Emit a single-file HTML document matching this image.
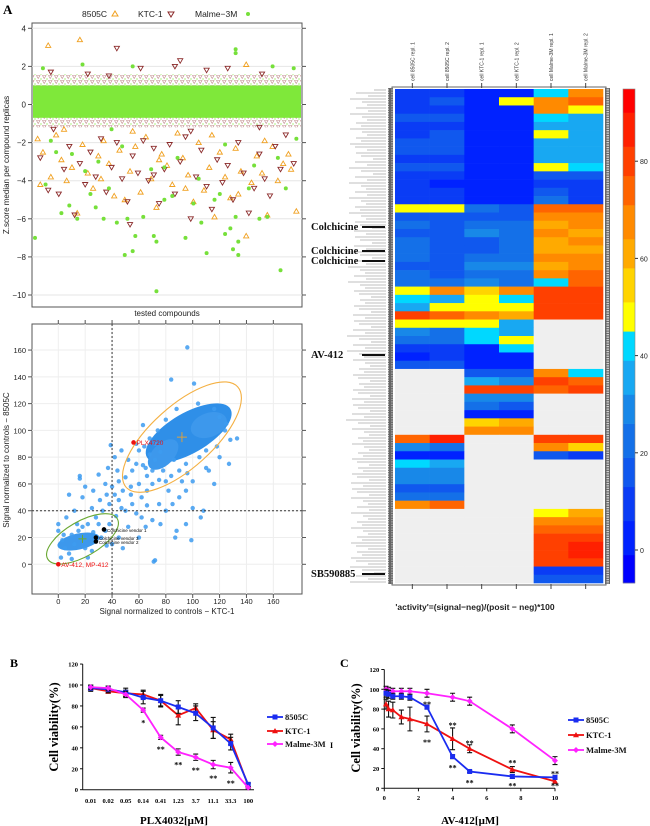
<!DOCTYPE html>
<html><head><meta charset="utf-8">
<style>
html,body{margin:0;padding:0;background:#fff;}
svg{display:block;font-family:"Liberation Sans",sans-serif;}
.serif{font-family:"Liberation Serif",serif;font-weight:bold;}
</style></head>
<body>
<svg id="fig" width="650" height="826" viewBox="0 0 650 826" xmlns="http://www.w3.org/2000/svg">
<defs>
<pattern id="brownTri" width="6" height="5" patternUnits="userSpaceOnUse"><path d="M0.5 0.5 L4 0.5 L2.2 3.5 Z" fill="none" stroke="#8b2a2a" stroke-width="0.6"/><circle cx="5" cy="4" r="0.9" fill="#7fe83a"/></pattern>
<pattern id="chk" width="5" height="2.4" patternUnits="userSpaceOnUse"><rect width="5" height="2.4" fill="#666"/><rect x="1" y="0.5" width="3" height="1.2" fill="#ddd"/></pattern>
</defs>
<text class="serif" x="3" y="14" font-size="13" font-weight="normal">A</text>
<text class="serif" x="10" y="667" font-size="12" font-weight="normal">B</text>
<text class="serif" x="340" y="667" font-size="12" font-weight="normal">C</text>
<g id="p1"></g>
<g id="p2"></g>
<g id="hm"></g>
<g id="pb"></g>
<g id="pc"></g>
</svg>
<script>
// ---------- Panel A top: z-score scatter ----------
const zTicks = [4,2,0,-2,-4,-6,-8,-10];
const z8505 = [[5,3.1],[17,3.4],[80,2.1],[1,-1.8],[3,-2.5],[6,-3.8],[8,-1.6],[10,-2.9],[12,-4.0],[14,-3.3],[16,-5.7],[18,-2.1],[20,-3.6],[22,-4.4],[24,-2.7],[26,-1.9],[28,-3.1],[30,-4.8],[32,-2.4],[34,-5.0],[36,-3.5],[38,-2.2],[40,-4.6],[42,-1.7],[44,-3.9],[46,-5.4],[48,-2.6],[50,-3.2],[52,-4.2],[54,-1.5],[56,-2.8],[58,-3.7],[60,-5.1],[62,-2.0],[64,-4.5],[66,-3.3],[68,-5.9],[70,-2.5],[72,-3.8],[74,-4.9],[76,-2.3],[78,-3.5],[80,-6.9],[82,-4.1],[84,-2.7],[86,-3.6],[88,-5.8],[90,-2.2],[92,-4.0],[94,-3.1],[96,-2.6],[99,-5.6],[2,-4.2],[11,-1.3],[25,-3.9],[37,-1.4],[47,-2.9],[57,-4.4],[67,-1.6],[77,-4.7],[87,-1.9],[97,-3.4]];
const zKTC = [[31,2.95],[55,2.3],[53,2.0],[40,1.9],[73,1.9],[6,1.7],[20,1.6],[28,1.5],[65,1.8],[86,1.6],[2,-2.8],[5,-4.5],[9,-4.7],[11,-3.4],[13,-2.2],[15,-5.8],[17,-3.1],[19,-4.2],[21,-2.5],[23,-3.8],[25,-1.8],[27,-4.6],[29,-3.3],[31,-2.0],[33,-3.9],[35,-5.1],[37,-2.7],[39,-3.6],[41,-1.9],[43,-4.0],[45,-2.3],[47,-5.2],[49,-3.4],[51,-2.1],[53,-4.7],[55,-3.0],[57,-1.7],[59,-6.0],[61,-3.8],[63,-2.4],[65,-4.3],[67,-5.5],[69,-2.9],[71,-4.1],[73,-3.2],[75,-5.0],[77,-2.0],[79,-3.6],[81,-5.7],[83,-4.4],[85,-2.6],[87,-3.9],[89,-4.8],[91,-2.2],[93,-3.4],[95,-1.6],[98,-3.1],[36,-6.3],[45,-3.7],[7,-1.3],[59,-1.4],[85,-1.2]];
const zMalme = [[0,-7.0],[3,1.9],[18,2.1],[37,2.0],[76,2.9],[76,2.7],[90,2.0],[98,1.9],[4,-4.2],[8,-2.5],[10,-5.7],[13,-5.3],[16,-6.0],[19,-3.5],[21,-4.7],[23,-5.4],[26,-6.0],[28,-4.4],[31,-6.2],[34,-7.9],[35,-6.0],[37,-7.7],[38,-6.9],[41,-5.9],[45,-6.9],[46,-7.2],[46,-9.8],[49,-5.0],[52,-4.8],[57,-7.0],[60,-5.2],[63,-6.2],[65,-7.8],[68,-5.0],[70,-4.7],[72,-6.8],[74,-6.5],[75,-7.6],[76,-5.9],[77,-7.2],[77,-7.9],[81,-4.4],[85,-6.0],[88,-5.9],[93,-8.7],[95,-4.4],[6,-1.9],[14,-2.6],[24,-3.0],[33,-2.2],[44,-3.4],[54,-2.8],[62,-3.9],[72,-2.1],[83,-3.2],[92,-2.8],[99,-1.8],[49,-3.3],[29,-1.3]];
const zBand = [-0.7, 1.0];

// ---------- Panel A bottom: signal scatter ----------
const sTicks = [0,20,40,60,80,100,120,140,160];
const sCloud = [[96,162],[84,138],[101,135],[63,104],[125,105],[133,94],[128,93],[127,75],[116,60],[110,85],[39,89],[42,80],[37,72],[30,67],[16,66],[16,64],[20,58],[26,55],[8,52],[18,50],[35,60],[45,62],[50,65],[48,55],[55,70],[58,75],[60,60],[62,50],[66,55],[70,60],[75,45],[80,40],[85,45],[90,50],[95,55],[100,42],[108,40],[106,35],[95,30],[88,25],[87,20],[99,18],[70,33],[72,3],[71,2],[66,44],[75,63],[82,55],[55,45],[50,40],[45,48],[42,52],[38,45],[33,40],[28,35],[22,30],[15,25],[10,22],[5,12],[0,30],[0,25],[2,5],[8,8],[20,12],[40,15],[45,20],[48,12],[52,28],[58,38],[62,35],[65,28],[90,70],[78,70],[86,78],[95,75],[105,80],[118,88],[68,82],[72,90],[60,85],[31,48],[25,42],[12,40],[6,35],[3,18],[12,15],[25,10],[44,70],[52,78],[47,85],[40,58],[36,52],[58,90],[65,72],[54,58],[112,70],[120,80],[100,62],[92,62],[80,62],[30,30],[35,25],[18,28],[60,20],[76,30],[66,66],[63,74],[70,70],[72,78],[76,84],[64,88],[68,94],[74,100],[80,108],[88,116],[104,120],[116,116],[120,110],[124,100],[110,72],[96,68],[84,66],[54,52],[47,42],[43,36],[38,30],[26,24],[32,20],[36,14],[14,30],[4,22],[22,5],[10,4]];
const sHighlights = [{x:56,y:91,label:"PLX4720",color:"#ee1111"},{x:0,y:0,label:"AV-412, MP-412",color:"#ee1111"},{x:34,y:26,label:"Colchicine vendor 1",color:"#000"},{x:28,y:20,label:"Colchicine vendor 3",color:"#000"},{x:28,y:17,label:"Colchicine vendor 2",color:"#000"}];

// ---------- Heatmap ----------
const hmCols = ["cell 8505C repl. 1","cell 8505C repl. 2","cell KTC-1 repl. 1","cell KTC-1 repl. 2","cell Malme-3M repl. 1","cell Malme-3M repl. 2"];
const N=null;
const hmRows = [
[10,12,5,3,40,70],[12,15,5,45,65,75],[8,10,3,3,70,45],[15,15,5,5,40,35],[12,12,5,5,35,35],[12,15,3,5,48,38],[15,15,3,3,35,35],[15,15,0,0,38,38],[12,12,0,0,35,35],[15,15,0,0,45,40],
[10,12,0,0,15,15],[8,5,2,2,10,10],[10,10,5,5,15,10],[12,12,5,5,20,10],[45,45,20,15,75,72],[18,15,15,15,70,68],[20,15,25,20,62,65],[18,15,30,25,65,62],[20,18,15,20,60,65],[20,15,18,20,62,62],
[20,18,25,22,65,65],[18,15,30,30,60,70],[20,18,25,25,70,75],[20,22,30,25,40,75],[50,65,55,70,80,80],[40,38,48,42,78,80],[35,48,45,50,80,82],[82,75,65,60,80,80],[50,45,45,38,N,N],[30,25,40,35,N,N],
[20,20,42,45,N,N],[10,10,5,40,N,N],[5,8,3,5,N,N],[15,15,5,5,N,N],[N,N,15,15,65,40],[N,N,35,30,80,75],[N,N,80,80,75,80],[N,N,30,28,N,N],[N,N,20,18,N,N],[N,N,5,5,N,N],
[N,N,55,60,N,N],[N,N,65,65,N,N],[75,85,N,N,82,80],[30,25,N,N,65,55],[5,5,N,N,15,10],[40,35,N,N,N,N],[30,30,N,N,N,N],[28,28,N,N,N,N],[15,15,N,N,N,N],[25,25,N,N,N,N],
[70,75,N,N,N,N],[N,N,N,N,50,60],[N,N,N,N,65,70],[N,N,N,N,75,72],[N,N,N,N,82,80],[N,N,N,N,80,85],[N,N,N,N,82,85],[N,N,N,N,80,82],[N,N,N,N,10,10],[N,N,N,N,15,15]];
const cbTicks = [0,20,40,60,80];
const cbEdges = [-7,-1,6,13,19,26,32,39,45,51,58,64,71,77,83,90,96];
const cbColors = ['#0000ff','#0022ff','#0a3cf5','#1058ee','#1470e8','#1888e8','#18a8f2','#00d8ff','#ffff00','#ffd400','#ffaa00','#ff8a00','#ff6400','#ff4000','#ff2000','#ff0000'];
const hmMarks = [{label:"Colchicine",y:226},{label:"Colchicine",y:250},{label:"Colchicine",y:260},{label:"AV-412",y:354},{label:"SB590885",y:573}];

// ---------- Panel B ----------
const bCats = ["0.01","0.02","0.05","0.14","0.41","1.23","3.7","11.1","33.3","100"];
const bYTicks = [0,20,40,60,80,100,120];
const b8505 = [97,96,93,88,85,79,73,59,44,5];
const bKTC = [97,94,92,91,85,71,78,57,48,4];
const bMalme = [98,97,91,76,50,36,31,24,21,2];
const b8505Err = [3,3,4,6,5,6,7,10,6,2];
const bKTCErr = [2,2,3,4,6,9,4,8,5,2];
const bMalmeErr = [2,2,3,2,2,3,3,4,5,1];
const bStars = [[3,65,"*"],[4,40,"**"],[5,25,"**"],[6,20,"**"],[7,12,"**"],[8,7.5,"**"]];

// ---------- Panel C ----------
const cX = [0.1,0.25,0.5,1,1.5,2.5,4,5,7.5,10];
const cXTicks = [0,2,4,6,8,10];
const cYTicks = [0,20,40,60,80,100,120];
const c8505 = [96,95,93,93,92,82,32,17,12,11];
const cKTC = [85,80,79,72,70,65,50,40,19,7];
const cMalme = [100,99,98,98,98,96,92,88,60,28];
const c8505Err = [4,4,3,3,3,2,2,1,2,2];
const cKTCErr = [5,8,8,7,12,8,11,4,3,2];
const cMalmeErr = [3,3,3,3,3,4,4,4,4,4];
const cStars = [[2.5,86,"**"],[2.5,48,"**"],[4,65,"**"],[4,22,"**"],[5,47,"**"],[5,7,"**"],[7.5,27,"**"],[7.5,4,"**"],[10,16,"**"],[10,4,"**"]];

const NS="http://www.w3.org/2000/svg";
function mk(parent,tag,attrs,text){const e=document.createElementNS(NS,tag);for(const k in attrs)e.setAttribute(k,attrs[k]);if(text!==undefined)e.textContent=text;parent.appendChild(e);return e;}

// ===== Panel A top =====
(function(){
  const g=document.getElementById('p1');
  const X=v=>35+v*2.64, Y=z=>104.5-z*19.05;
  const fr=mk(g,'rect',{x:32,y:23,width:270,height:284,fill:'#fff',stroke:'#555','stroke-width':1});
  
  zTicks.forEach(t=>{
    mk(g,'line',{x1:32,x2:302,y1:Y(t),y2:Y(t),stroke:'#e6e6e6','stroke-width':1});
    mk(g,'line',{x1:28,x2:32,y1:Y(t),y2:Y(t),stroke:'#555'});
    mk(g,'line',{x1:302,x2:306,y1:Y(t),y2:Y(t),stroke:'#555'});
    const tl=mk(g,'text',{x:26,y:Y(t)+3,'font-size':8,'text-anchor':'end',fill:'#222'},String(t).replace('-','−'));
    
  });
  // dense band
  const band=mk(g,'rect',{x:33,y:Y(1.6),width:268,height:Y(-1.2)-Y(1.6),fill:'url(#brownTri)',opacity:0.55});
  
  const gb=mk(g,'rect',{x:33,y:Y(zBand[1]),width:268,height:Y(zBand[0])-Y(zBand[1]),fill:'#7fe83a'});
  
  z8505.forEach(p=>{const x=X(p[0]),y=Y(p[1]);const m=mk(g,'path',{d:`M${x} ${y-2.5}L${x+2.6} ${y+2}L${x-2.6} ${y+2}Z`,fill:'none',stroke:'#f0a020','stroke-width':0.9});
    });
  zKTC.forEach(p=>{const x=X(p[0]),y=Y(p[1]);const m=mk(g,'path',{d:`M${x} ${y+2.5}L${x+2.6} ${y-2}L${x-2.6} ${y-2}Z`,fill:'none',stroke:'#8b2a2a','stroke-width':0.9});
    });
  zMalme.forEach(p=>{const m=mk(g,'circle',{cx:X(p[0]),cy:Y(p[1]),r:2,fill:'#76e03a'});
    });
  const yt=mk(g,'text',{x:0,y:0,'font-size':8,'text-anchor':'middle',transform:'translate(9,165) rotate(-90)',fill:'#222'},'Z.score median per compound replicas');
  
  const xt=mk(g,'text',{x:167,y:316,'font-size':8,'text-anchor':'middle',fill:'#222'},'tested compounds');
  
  const lg=mk(g,'g',{});
  mk(lg,'text',{x:82,y:17,'font-size':8.5,fill:'#222'},'8505C');
  mk(lg,'path',{d:'M115 11L118 16L112 16Z',fill:'none',stroke:'#f0a020'});
  mk(lg,'text',{x:138,y:17,'font-size':8.5,fill:'#222'},'KTC-1');
  mk(lg,'path',{d:'M171 17L174 12L168 12Z',fill:'none',stroke:'#8b2a2a'});
  mk(lg,'text',{x:195,y:17,'font-size':8.5,fill:'#222'},'Malme−3M');
  mk(lg,'circle',{cx:248,cy:14,r:2,fill:'#76e03a'});
})();

// ===== Panel A bottom =====
(function(){
  const g=document.getElementById('p2');
  const X=v=>58.3+v*1.344, Y=v=>564.3-v*1.339;
  mk(g,'rect',{x:32,y:324,width:270,height:270,fill:'#fff',stroke:'#555'});
  sTicks.forEach(t=>{
    mk(g,'line',{x1:X(t),x2:X(t),y1:324,y2:594,stroke:'#eee'});
    mk(g,'line',{x1:32,x2:302,y1:Y(t),y2:Y(t),stroke:'#eee'});
    mk(g,'line',{x1:28,x2:32,y1:Y(t),y2:Y(t),stroke:'#555'});
    mk(g,'line',{x1:302,x2:306,y1:Y(t),y2:Y(t),stroke:'#555'});
    mk(g,'line',{x1:X(t),x2:X(t),y1:594,y2:598,stroke:'#555'});
    mk(g,'line',{x1:X(t),x2:X(t),y1:320,y2:324,stroke:'#555'});
    const a=mk(g,'text',{x:26,y:Y(t)+3,'font-size':7.5,'text-anchor':'end',fill:'#222'},t);
    
    const b=mk(g,'text',{x:X(t),y:604,'font-size':7.5,'text-anchor':'middle',fill:'#222'},t);
    
  });
  const c1=mk(g,'ellipse',{cx:X(97),cy:Y(98),rx:36*1.34,ry:15*1.34,transform:`rotate(-30 ${X(97)} ${Y(98)})`,fill:'#2f8fe8'});
  
  mk(g,'ellipse',{cx:X(78),cy:Y(82),rx:14*1.34,ry:8*1.34,transform:`rotate(-45 ${X(78)} ${Y(82)})`,fill:'#3d98ec'});
  mk(g,'ellipse',{cx:X(112),cy:Y(104),rx:14*1.34,ry:9*1.34,transform:`rotate(-20 ${X(112)} ${Y(104)})`,fill:'#3d98ec'});
  const c2=mk(g,'ellipse',{cx:X(15),cy:Y(17),rx:16*1.34,ry:6*1.34,transform:`rotate(-12 ${X(15)} ${Y(17)})`,fill:'#3d98ec'});
  
  sCloud.forEach(p=>{const c=mk(g,'circle',{cx:X(p[0]),cy:Y(p[1]),r:2.2,fill:'#3d9bf0',opacity:0.85});
    });
  mk(g,'line',{x1:X(40),x2:X(40),y1:324,y2:594,stroke:'#333','stroke-dasharray':'2,2'});
  mk(g,'line',{x1:32,x2:302,y1:Y(40),y2:Y(40),stroke:'#333','stroke-dasharray':'2,2'});
  const e1=mk(g,'ellipse',{cx:X(92),cy:Y(95),rx:56*1.34,ry:23*1.34,transform:`rotate(-42 ${X(92)} ${Y(95)})`,fill:'none',stroke:'#f4b042','stroke-width':1.1});
  
  const e2=mk(g,'ellipse',{cx:X(18),cy:Y(19),rx:30*1.34,ry:13*1.34,transform:`rotate(-30 ${X(18)} ${Y(19)})`,fill:'none',stroke:'#6aa832','stroke-width':1.1});
  
  mk(g,'path',{d:`M${X(92)-5} ${Y(95)}h10M${X(92)} ${Y(95)-5}v10`,stroke:'#d9a040'});
  mk(g,'path',{d:`M${X(18)-4} ${Y(19)}h8M${X(18)} ${Y(19)-4}v8`,stroke:'#6aa832'});
  sHighlights.forEach(h=>{
    const c=mk(g,'circle',{cx:X(h.x),cy:Y(h.y),r:2.3,fill:h.color});
    
    const t=mk(g,'text',{x:X(h.x)+3,y:Y(h.y)+2.5,'font-size':h.color==='#000'?4.5:6.5,fill:h.color},h.label);
    
  });
  const yt=mk(g,'text',{x:0,y:0,'font-size':8,'text-anchor':'middle',transform:'translate(9,460) rotate(-90)',fill:'#222'},'Signal normalized to controls − 8505C');
  
  const xt=mk(g,'text',{x:167,y:614,'font-size':8,'text-anchor':'middle',fill:'#222'},'Signal normalized to controls − KTC-1');
  
})();

// ===== Heatmap =====
(function(){
  const g=document.getElementById('hm');
  const top=89,bot=583,left=395,right=603;
  const cw=(right-left)/hmCols.length, rh=(bot-top)/hmRows.length;
  function color(v){if(v===null)return '#efefef';for(let i=0;i<cbColors.length;i++){if(v<cbEdges[i+1])return cbColors[i];}return cbColors[cbColors.length-1];}
  for(let i=0;i<165;i++){const y=top+1+i*3;const len=12+((i*37)%23)+((i*11)%7);mk(g,'line',{x1:386-len,x2:386,y1:y,y2:y,stroke:'#aaa','stroke-width':0.8});}
  mk(g,'rect',{x:388,y:top-1,width:5,height:bot-top+2,fill:'url(#chk)'});
  mk(g,'rect',{x:605,y:top-1,width:5,height:bot-top+2,fill:'url(#chk)'});
  mk(g,'rect',{x:392,y:top-2,width:214,height:bot-top+4,fill:'none',stroke:'#666'});
  hmRows.forEach((row,ri)=>{row.forEach((v,ci)=>{
    const r=mk(g,'rect',{x:left+ci*cw,y:top+ri*rh,width:cw+0.3,height:rh+0.3,fill:color(v)});
    
  });});
  hmCols.forEach((c,ci)=>{const x=left+(ci+0.5)*cw;
    mk(g,'line',{x1:x,x2:x,y1:83,y2:88,stroke:'#444'});
    mk(g,'line',{x1:x,x2:x,y1:584,y2:589,stroke:'#444'});
    const t=mk(g,'text',{x:0,y:0,'font-size':5,'text-anchor':'start',transform:`translate(${x+2},81) rotate(-90)`,fill:'#333'},c);
    
  });
  hmMarks.forEach(m=>{
    const t=mk(g,'text',{x:311,y:m.y+4,'font-size':10.5,class:'serif',fill:'#111'},m.label);
    
    mk(g,'line',{x1:362,x2:385,y1:m.y+1,y2:m.y+1,stroke:'#111','stroke-width':2});
  });
  const CY=v=>550-v*4.86;
  for(let i=0;i<cbColors.length;i++){
    const y1=Math.max(top,CY(cbEdges[i+1])), y2=Math.min(bot,CY(cbEdges[i]));
    const r=mk(g,'rect',{x:623,y:y1,width:12,height:y2-y1+0.3,fill:cbColors[i]});
    
  }
  mk(g,'rect',{x:623,y:top,width:12,height:bot-top,fill:'none',stroke:'#888','stroke-width':0.6});
  cbTicks.forEach(t=>{mk(g,'line',{x1:635,x2:638,y1:CY(t),y2:CY(t),stroke:'#333'});
    const l=mk(g,'text',{x:640,y:CY(t)+3,'font-size':7,fill:'#222'},t);
    });
  const cap=mk(g,'text',{x:475,y:610,'font-size':8.5,'font-weight':'bold','text-anchor':'middle',fill:'#222'},"'activity'=(signal−neg)/(posit − neg)*100");
  
})();

// ===== Viability charts =====
function markerPath(type,x,y){
  if(type==='sq')return `M${x-2.5} ${y-2.5}h5v5h-5Z`;
  if(type==='tri')return `M${x} ${y-3}L${x+3} ${y+2.2}L${x-3} ${y+2.2}Z`;
  return `M${x} ${y-3}L${x+3} ${y}L${x} ${y+3}L${x-3} ${y}Z`;
}
function drawSeries(g,xs,vals,errs,X,Y,color,type,name){
  for(let i=0;i<vals.length;i++){const x=X(xs[i]);
    mk(g,'path',{d:`M${x} ${Y(vals[i]+errs[i])}V${Y(vals[i]-errs[i])}M${x-2.5} ${Y(vals[i]+errs[i])}h5M${x-2.5} ${Y(vals[i]-errs[i])}h5`,stroke:'#111','stroke-width':1.1,fill:'none'});}
  const pts=vals.map((v,i)=>X(xs[i])+','+Y(v)).join(' ');
  const l=mk(g,'polyline',{points:pts,fill:'none',stroke:color,'stroke-width':1.8});
  
  vals.forEach((v,i)=>{const m=mk(g,'path',{d:markerPath(type,X(xs[i]),Y(v)),fill:color});
    });
}
function legend(g,x,ys){
  const items=[['8505C','#1a2cf0','sq'],['KTC-1','#ee1111','tri'],['Malme-3M','#ff22ff','dia']];
  items.forEach((it,i)=>{const e=mk(g,'g',{});
    mk(e,'line',{x1:x,x2:x+16,y1:ys[i],y2:ys[i],stroke:it[1],'stroke-width':1.8});
    mk(e,'path',{d:markerPath(it[2],x+8,ys[i]),fill:it[1]});
    mk(e,'text',{x:x+18,y:ys[i]+3,'font-size':8.5,class:'serif',fill:'#111'},it[0]);});
}
(function(){
  const g=document.getElementById('pb');
  const idx=bCats.map((c,i)=>i);
  const X=i=>90.7+i*17.5, Y=v=>789.7-v*1.047;
  mk(g,'line',{x1:82.7,x2:82.7,y1:Y(120),y2:Y(0),stroke:'#111'});
  mk(g,'line',{x1:82.7,x2:254,y1:Y(0),y2:Y(0),stroke:'#111'});
  bYTicks.forEach(t=>{mk(g,'line',{x1:80,x2:82.7,y1:Y(t),y2:Y(t),stroke:'#111'});
    const l=mk(g,'text',{x:78,y:Y(t)+2.5,'font-size':6.5,'text-anchor':'end',class:'serif'},t);
    });
  bCats.forEach((c,i)=>{const l=mk(g,'text',{x:X(i),y:803,'font-size':6.5,'text-anchor':'middle',class:'serif'},c);
    });
  drawSeries(g,idx,bKTC,bKTCErr,X,Y,'#ee1111','tri','ktc1');
  drawSeries(g,idx,b8505,b8505Err,X,Y,'#1a2cf0','sq','8505c');
  drawSeries(g,idx,bMalme,bMalmeErr,X,Y,'#ff22ff','dia','malme3m');
  bStars.forEach(s=>{const t=mk(g,'text',{x:X(s[0]),y:Y(s[1])+4,'font-size':8,'text-anchor':'middle',class:'serif'},s[2]);
    });
  legend(g,267,[717,731,744]);
  const yt=mk(g,'text',{x:0,y:0,'font-size':12.5,'text-anchor':'middle',class:'serif',transform:'translate(58,727) rotate(-90)'},'Cell viability(%)');
  
  const xt=mk(g,'text',{x:174,y:824,'font-size':11,'text-anchor':'middle',class:'serif'},'PLX4032[μM]');
  
})();
(function(){
  const g=document.getElementById('pc');
  const X=v=>384.3+v*17.07, Y=v=>788.3-v*0.99;
  mk(g,'line',{x1:X(0),x2:X(0),y1:Y(120),y2:Y(0),stroke:'#111'});
  mk(g,'line',{x1:X(0),x2:X(10),y1:Y(0),y2:Y(0),stroke:'#111'});
  cYTicks.forEach(t=>{mk(g,'line',{x1:X(0)-3,x2:X(0),y1:Y(t),y2:Y(t),stroke:'#111'});
    const l=mk(g,'text',{x:X(0)-5,y:Y(t)+2.5,'font-size':6.5,'text-anchor':'end',class:'serif'},t);
    });
  cXTicks.forEach(t=>{mk(g,'line',{x1:X(t),x2:X(t),y1:Y(0),y2:Y(0)+3,stroke:'#111'});
    const l=mk(g,'text',{x:X(t),y:800,'font-size':6.5,'text-anchor':'middle',class:'serif'},t);
    });
  drawSeries(g,cX,cMalme,cMalmeErr,X,Y,'#ff22ff','dia','malme3m');
  drawSeries(g,cX,cKTC,cKTCErr,X,Y,'#ee1111','tri','ktc1');
  drawSeries(g,cX,c8505,c8505Err,X,Y,'#1a2cf0','sq','8505c');
  cStars.forEach(s=>{const t=mk(g,'text',{x:X(s[0]),y:Y(s[1])+4,'font-size':8,'text-anchor':'middle',class:'serif'},s[2]);
    });
  legend(g,568,[720,735,750]);
  mk(g,'text',{x:330,y:748,'font-size':8,class:'serif'},'I');
  const yt=mk(g,'text',{x:0,y:0,'font-size':12.5,'text-anchor':'middle',class:'serif',transform:'translate(360,728) rotate(-90)'},'Cell viability(%)');
  
  const xt=mk(g,'text',{x:470,y:824,'font-size':11,'text-anchor':'middle',class:'serif'},'AV-412[μM]');
  
})();
</script>
</body></html>
